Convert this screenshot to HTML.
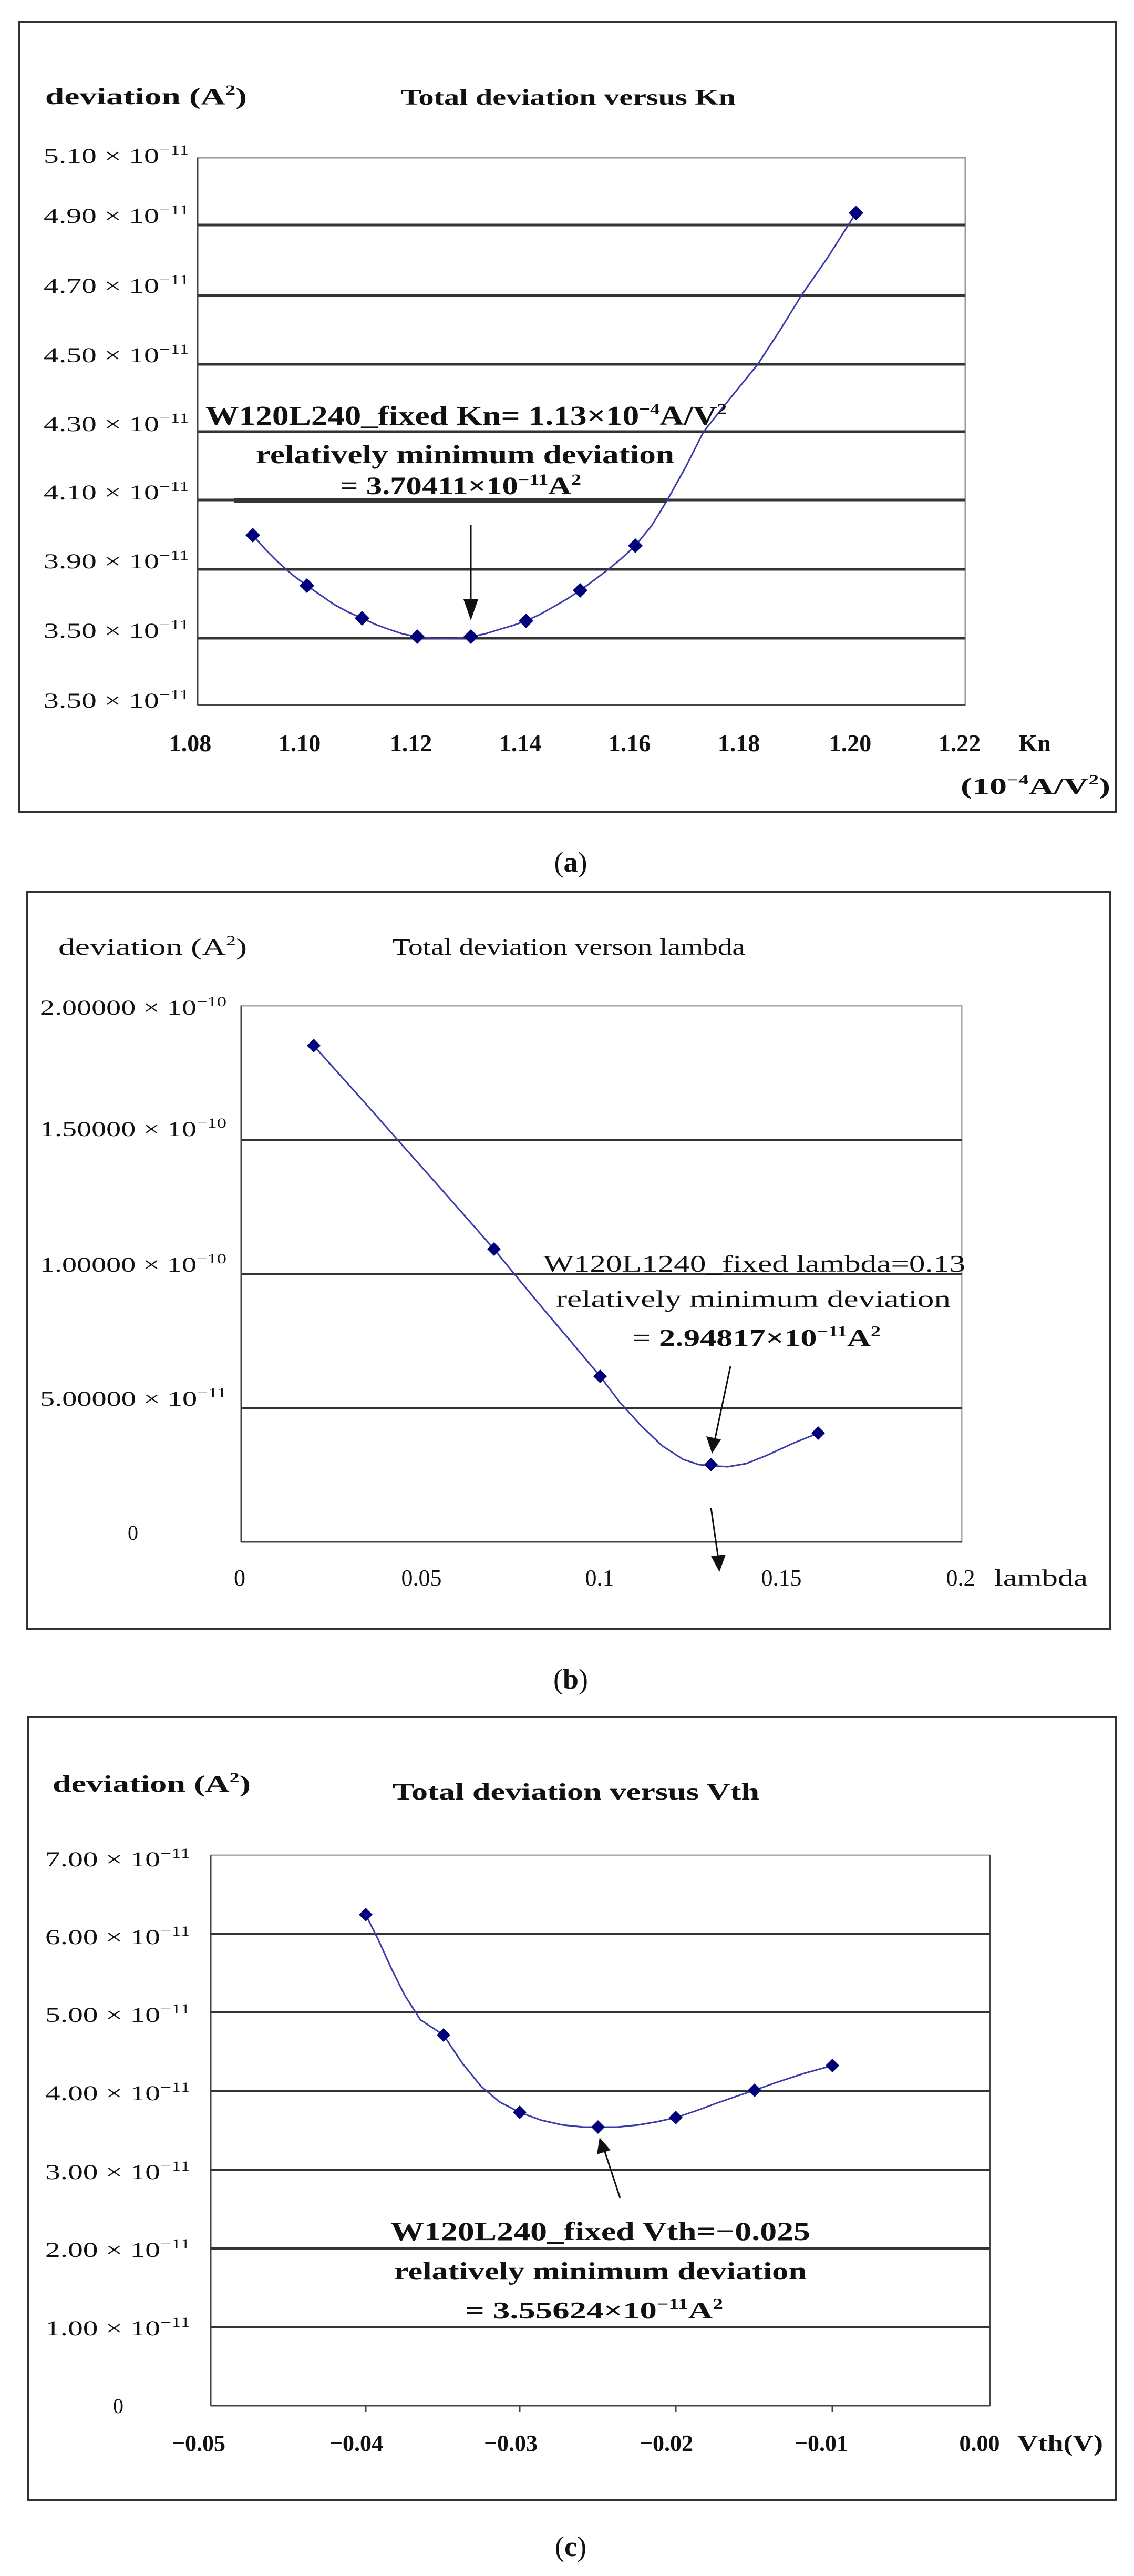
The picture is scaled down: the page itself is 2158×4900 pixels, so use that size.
<!DOCTYPE html>
<html><head><meta charset="utf-8"><style>
html,body{margin:0;padding:0;background:#fff;}
svg{display:block;}
text{font-family:"Liberation Serif","DejaVu Serif",serif;fill:#111;}
.b{font-weight:bold;}
.g{fill:#333;}
</style></head><body>
<svg width="2158" height="4900" viewBox="0 0 2158 4900" xmlns="http://www.w3.org/2000/svg">

<!-- ============ PANEL A ============ -->
<rect x="37" y="41" width="2086" height="1504" fill="none" stroke="#333" stroke-width="4"/>
<rect x="376" y="300" width="1461" height="1041" fill="none" stroke="#999" stroke-width="3"/>
<g stroke="#333" stroke-width="5">
<line x1="376" y1="428" x2="1837" y2="428"/>
<line x1="376" y1="562" x2="1837" y2="562"/>
<line x1="376" y1="693" x2="1837" y2="693"/>
<line x1="376" y1="821" x2="1837" y2="821"/>
<line x1="376" y1="951" x2="1837" y2="951"/>
<line x1="445" y1="952" x2="1270" y2="952" stroke-width="8"/>
<line x1="376" y1="1083" x2="1837" y2="1083"/>
<line x1="376" y1="1214" x2="1837" y2="1214"/>
</g>
<line x1="376" y1="300" x2="376" y2="1341" stroke="#444" stroke-width="3"/>
<line x1="376" y1="1341" x2="1837" y2="1341" stroke="#444" stroke-width="3"/>

<text class="b" x="86" y="198" font-size="44" textLength="384" lengthAdjust="spacingAndGlyphs">deviation (A<tspan dy="-18" font-size="26">2</tspan><tspan dy="18">)</tspan></text>
<text class="b" x="763" y="199" font-size="42" textLength="637" lengthAdjust="spacingAndGlyphs">Total deviation versus Kn</text>

<g font-size="40" class="g">
<text x="83" y="310" textLength="277" lengthAdjust="spacingAndGlyphs">5.10 × 10<tspan dy="-16" font-size="26">−11</tspan></text>
<text x="83" y="424" textLength="277" lengthAdjust="spacingAndGlyphs">4.90 × 10<tspan dy="-16" font-size="26">−11</tspan></text>
<text x="83" y="557" textLength="277" lengthAdjust="spacingAndGlyphs">4.70 × 10<tspan dy="-16" font-size="26">−11</tspan></text>
<text x="83" y="689" textLength="277" lengthAdjust="spacingAndGlyphs">4.50 × 10<tspan dy="-16" font-size="26">−11</tspan></text>
<text x="83" y="820" textLength="277" lengthAdjust="spacingAndGlyphs">4.30 × 10<tspan dy="-16" font-size="26">−11</tspan></text>
<text x="83" y="950" textLength="277" lengthAdjust="spacingAndGlyphs">4.10 × 10<tspan dy="-16" font-size="26">−11</tspan></text>
<text x="83" y="1081" textLength="277" lengthAdjust="spacingAndGlyphs">3.90 × 10<tspan dy="-16" font-size="26">−11</tspan></text>
<text x="83" y="1213" textLength="277" lengthAdjust="spacingAndGlyphs">3.50 × 10<tspan dy="-16" font-size="26">−11</tspan></text>
<text x="83" y="1346" textLength="277" lengthAdjust="spacingAndGlyphs">3.50 × 10<tspan dy="-16" font-size="26">−11</tspan></text>
</g>

<g class="b" font-size="46" text-anchor="middle">
<text x="362" y="1429">1.08</text>
<text x="570" y="1429">1.10</text>
<text x="782" y="1429">1.12</text>
<text x="990" y="1429">1.14</text>
<text x="1198" y="1429">1.16</text>
<text x="1406" y="1429">1.18</text>
<text x="1618" y="1429">1.20</text>
<text x="1826" y="1429">1.22</text>
<text x="1969" y="1429">Kn</text>
</g>
<text class="b" x="1828" y="1510" font-size="44" textLength="285" lengthAdjust="spacingAndGlyphs">(10<tspan dy="-18" font-size="26">−4</tspan><tspan dy="18">A/V</tspan><tspan dy="-18" font-size="26">2</tspan><tspan dy="18">)</tspan></text>

<polyline fill="none" stroke="#3a3aa8" stroke-width="3" stroke-linejoin="round" points="481,1018 505,1045 530,1070 556,1093 584,1114 610,1132 636,1150 662,1164 689,1176 715,1188 740,1197 767,1206 794,1211 820,1214 845,1215 870,1214 896,1211 922,1206 948,1198 975,1190 1001,1181 1027,1169 1052,1155 1078,1140 1104,1123 1130,1104 1155,1085 1182,1063 1209,1038 1240,1000 1270,951 1305,888 1339,821 1390,757 1442,693 1485,627 1525,562 1575,490 1629,405"/>
<g fill="#00007a">
<polygon points="481,1004 495,1018 481,1032 467,1018"/>
<polygon points="584,1100 598,1114 584,1128 570,1114"/>
<polygon points="689,1162 703,1176 689,1190 675,1176"/>
<polygon points="794,1197 808,1211 794,1225 780,1211"/>
<polygon points="896,1197 910,1211 896,1225 882,1211"/>
<polygon points="1001,1167 1015,1181 1001,1195 987,1181"/>
<polygon points="1104,1109 1118,1123 1104,1137 1090,1123"/>
<polygon points="1209,1024 1223,1038 1209,1052 1195,1038"/>
<polygon points="1629,391 1643,405 1629,419 1615,405"/>
</g>

<text class="b" x="391" y="808" font-size="52" textLength="992" lengthAdjust="spacingAndGlyphs">W120L240_fixed Kn= 1.13×10<tspan dy="-20" font-size="30">−4</tspan><tspan dy="20">A/V</tspan><tspan dy="-20" font-size="30">2</tspan></text>
<text class="b" x="487" y="881" font-size="50" textLength="796" lengthAdjust="spacingAndGlyphs">relatively minimum deviation</text>
<text class="b" x="647" y="940" font-size="48" textLength="459" lengthAdjust="spacingAndGlyphs">= 3.70411×10<tspan dy="-18" font-size="30">−11</tspan><tspan dy="18">A</tspan><tspan dy="-18" font-size="30">2</tspan></text>
<line x1="896" y1="998" x2="896" y2="1150" stroke="#111" stroke-width="3"/>
<polygon points="882,1140 910,1140 896,1180" fill="#111"/>

<text x="1086" y="1658" font-size="54" text-anchor="middle">(<tspan font-weight="bold">a</tspan>)</text>

<!-- ============ PANEL B ============ -->
<rect x="51" y="1697" width="2062" height="1402" fill="none" stroke="#333" stroke-width="4"/>
<rect x="459" y="1913" width="1371" height="1020" fill="none" stroke="#aaa" stroke-width="3"/>
<g stroke="#333" stroke-width="4">
<line x1="459" y1="2168" x2="1830" y2="2168"/>
<line x1="459" y1="2424" x2="1830" y2="2424"/>
<line x1="459" y1="2679" x2="1830" y2="2679"/>
</g>
<line x1="459" y1="1913" x2="459" y2="2933" stroke="#444" stroke-width="3"/>
<line x1="459" y1="2933" x2="1830" y2="2933" stroke="#444" stroke-width="3"/>

<text x="111" y="1816" font-size="44" fill="#333" textLength="359" lengthAdjust="spacingAndGlyphs">deviation (A<tspan dy="-18" font-size="26">2</tspan><tspan dy="18">)</tspan></text>
<text x="747" y="1816" font-size="44" textLength="671" lengthAdjust="spacingAndGlyphs">Total deviation verson lambda</text>

<g font-size="40" fill="#333">
<text x="76" y="1930" textLength="355" lengthAdjust="spacingAndGlyphs">2.00000 × 10<tspan dy="-16" font-size="26">−10</tspan></text>
<text x="76" y="2161" textLength="355" lengthAdjust="spacingAndGlyphs">1.50000 × 10<tspan dy="-16" font-size="26">−10</tspan></text>
<text x="76" y="2419" textLength="355" lengthAdjust="spacingAndGlyphs">1.00000 × 10<tspan dy="-16" font-size="26">−10</tspan></text>
<text x="76" y="2674" textLength="355" lengthAdjust="spacingAndGlyphs">5.00000 × 10<tspan dy="-16" font-size="26">−11</tspan></text>
<text x="253" y="2929" text-anchor="middle">0</text>
</g>
<g font-size="44" text-anchor="middle">
<text x="456" y="3016">0</text>
<text x="802" y="3016">0.05</text>
<text x="1141" y="3016">0.1</text>
<text x="1487" y="3016">0.15</text>
<text x="1828" y="3016">0.2</text>
</g>
<text x="1892" y="3016" font-size="44" textLength="178" lengthAdjust="spacingAndGlyphs">lambda</text>

<polyline fill="none" stroke="#3a3aa8" stroke-width="3" stroke-linejoin="round" points="597,1989 683,2085 768,2181 854,2278 940,2376 990,2437 1040,2497 1090,2556 1142,2618 1180,2668 1220,2712 1260,2750 1300,2776 1330,2786 1353,2788 1385,2790 1420,2784 1460,2768 1510,2745 1557,2726"/>
<g fill="#00007a">
<polygon points="597,1976 610,1989 597,2002 584,1989"/>
<polygon points="940,2363 953,2376 940,2389 927,2376"/>
<polygon points="1142,2605 1155,2618 1142,2631 1129,2618"/>
<polygon points="1353,2773 1366,2786 1353,2799 1340,2786"/>
<polygon points="1557,2713 1570,2726 1557,2739 1544,2726"/>
</g>
<text x="1034" y="2419" font-size="46" fill="#333" textLength="803" lengthAdjust="spacingAndGlyphs">W120L1240_fixed lambda=0.13</text>
<text x="1058" y="2486" font-size="46" fill="#333" textLength="751" lengthAdjust="spacingAndGlyphs">relatively minimum deviation</text>
<text class="b" x="1203" y="2560" font-size="46" textLength="473" lengthAdjust="spacingAndGlyphs">= 2.94817×10<tspan dy="-18" font-size="28">−11</tspan><tspan dy="18">A</tspan><tspan dy="-18" font-size="28">2</tspan></text>
<line x1="1390" y1="2599" x2="1360" y2="2740" stroke="#111" stroke-width="3"/>
<polygon points="1344,2732 1372,2738 1355,2765" fill="#111"/>
<line x1="1353" y1="2868" x2="1367" y2="2965" stroke="#111" stroke-width="3"/>
<polygon points="1353,2960 1381,2957 1369,2990" fill="#111"/>

<text x="1086" y="3212" font-size="54" text-anchor="middle">(<tspan font-weight="bold">b</tspan>)</text>

<!-- ============ PANEL C ============ -->
<rect x="53" y="3266" width="2070" height="1490" fill="none" stroke="#333" stroke-width="4"/>
<line x1="401" y1="3529" x2="1884" y2="3529" stroke="#aaa" stroke-width="3"/>
<line x1="1884" y1="3529" x2="1884" y2="4576" stroke="#444" stroke-width="3"/>
<line x1="401" y1="3529" x2="401" y2="4576" stroke="#444" stroke-width="3"/>
<line x1="401" y1="4576" x2="1884" y2="4576" stroke="#444" stroke-width="3"/>
<g stroke="#333" stroke-width="4">
<line x1="401" y1="3679" x2="1884" y2="3679"/>
<line x1="401" y1="3828" x2="1884" y2="3828"/>
<line x1="401" y1="3978" x2="1884" y2="3978"/>
<line x1="401" y1="4127" x2="1884" y2="4127"/>
<line x1="401" y1="4277" x2="1884" y2="4277"/>
<line x1="401" y1="4426" x2="1884" y2="4426"/>
</g>
<g stroke="#444" stroke-width="3">
<line x1="696" y1="4576" x2="696" y2="4588"/><line x1="989" y1="4576" x2="989" y2="4588"/>
<line x1="1286" y1="4576" x2="1286" y2="4588"/><line x1="1584" y1="4576" x2="1584" y2="4588"/>
</g>

<text class="b" x="100" y="3408" font-size="44" textLength="377" lengthAdjust="spacingAndGlyphs">deviation (A<tspan dy="-18" font-size="26">2</tspan><tspan dy="18">)</tspan></text>
<text class="b" x="747" y="3423" font-size="44" textLength="698" lengthAdjust="spacingAndGlyphs">Total deviation versus Vth</text>

<g font-size="40" class="g">
<text x="86" y="3550" textLength="276" lengthAdjust="spacingAndGlyphs">7.00 × 10<tspan dy="-16" font-size="26">−11</tspan></text>
<text x="86" y="3698" textLength="276" lengthAdjust="spacingAndGlyphs">6.00 × 10<tspan dy="-16" font-size="26">−11</tspan></text>
<text x="86" y="3846" textLength="276" lengthAdjust="spacingAndGlyphs">5.00 × 10<tspan dy="-16" font-size="26">−11</tspan></text>
<text x="86" y="3995" textLength="276" lengthAdjust="spacingAndGlyphs">4.00 × 10<tspan dy="-16" font-size="26">−11</tspan></text>
<text x="86" y="4145" textLength="276" lengthAdjust="spacingAndGlyphs">3.00 × 10<tspan dy="-16" font-size="26">−11</tspan></text>
<text x="86" y="4293" textLength="276" lengthAdjust="spacingAndGlyphs">2.00 × 10<tspan dy="-16" font-size="26">−11</tspan></text>
<text x="86" y="4442" textLength="276" lengthAdjust="spacingAndGlyphs">1.00 × 10<tspan dy="-16" font-size="26">−11</tspan></text>
<text x="225" y="4590" text-anchor="middle">0</text>
</g>
<g class="b" font-size="44" text-anchor="middle">
<text x="378" y="4662">−0.05</text>
<text x="678" y="4662">−0.04</text>
<text x="972" y="4662">−0.03</text>
<text x="1268" y="4662">−0.02</text>
<text x="1563" y="4662">−0.01</text>
<text x="1864" y="4662">0.00</text>
</g>
<text class="b" x="1936" y="4662" font-size="44" textLength="163" lengthAdjust="spacingAndGlyphs">Vth(V)</text>

<polyline fill="none" stroke="#3a3aa8" stroke-width="3" stroke-linejoin="round" points="696,3642 720,3690 745,3745 770,3795 800,3842 844,3871 880,3925 915,3968 950,3998 989,4018 1030,4033 1070,4042 1110,4046 1138,4046 1175,4046 1215,4042 1250,4036 1286,4028 1325,4015 1360,4002 1400,3988 1436,3976 1475,3962 1530,3944 1584,3929"/>
<g fill="#00007a">
<polygon points="696,3629 709,3642 696,3655 683,3642"/>
<polygon points="844,3858 857,3871 844,3884 831,3871"/>
<polygon points="989,4005 1002,4018 989,4031 976,4018"/>
<polygon points="1138,4033 1151,4046 1138,4059 1125,4046"/>
<polygon points="1286,4015 1299,4028 1286,4041 1273,4028"/>
<polygon points="1436,3963 1449,3976 1436,3989 1423,3976"/>
<polygon points="1584,3916 1597,3929 1584,3942 1571,3929"/>
</g>
<line x1="1180" y1="4181" x2="1150" y2="4090" stroke="#111" stroke-width="3"/>
<polygon points="1136,4098 1162,4090 1141,4066" fill="#111"/>
<text class="b" x="743" y="4261" font-size="50" textLength="799" lengthAdjust="spacingAndGlyphs">W120L240_fixed Vth=−0.025</text>
<text class="b" x="750" y="4336" font-size="48" textLength="785" lengthAdjust="spacingAndGlyphs">relatively minimum deviation</text>
<text class="b" x="885" y="4410" font-size="46" textLength="491" lengthAdjust="spacingAndGlyphs">=  3.55624×10<tspan dy="-18" font-size="28">−11</tspan><tspan dy="18">A</tspan><tspan dy="-18" font-size="28">2</tspan></text>

<text x="1086" y="4862" font-size="54" text-anchor="middle">(<tspan font-weight="bold">c</tspan>)</text>
</svg>
</body></html>
